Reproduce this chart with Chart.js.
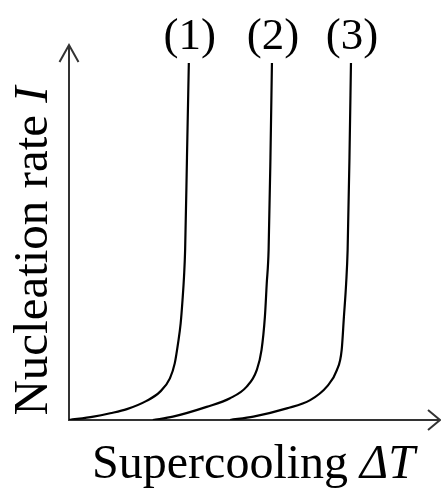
<!DOCTYPE html>
<html>
<head>
<meta charset="utf-8">
<script src="https://cdn.jsdelivr.net/npm/chart.js@4/dist/chart.umd.min.js"></script>
<style>
    html, body { margin: 0; padding: 0; background: #fff; }
    #nucleation-chart { display: block; }
</style>
</head>
<body>
<canvas id="nucleation-chart" width="441" height="490"></canvas>
<script>
// Nucleation rate vs. supercooling, three curves (arbitrary units, 0-100)
const curveLabels = ['(1)', '(2)', '(3)'];

const curve1X = [0, 6.6, 11.1, 15.6, 20.9, 24.5, 27.2, 28.5, 29.4, 30.1, 30.6, 31.0, 31.3, 31.8, 32.3];
const curve1Y = [0, 0.9, 1.8, 2.9, 5.1, 7.5, 11.1, 15.1, 20.5, 25.8, 32.0, 38.2, 45.3, 70.0, 95.2];

const curve2X = [22.6, 28.0, 37.1, 43.4, 47.9, 50.6, 51.9, 52.8, 53.3, 53.8, 54.3, 54.7];
const curve2Y = [0, 0.9, 3.5, 5.8, 8.9, 13.3, 18.7, 27.5, 36.4, 45.3, 70.0, 95.2];

const curve3X = [43.4, 49.7, 58.7, 65.0, 69.5, 72.2, 73.5, 74.1, 74.7, 75.1, 75.6, 76.0];
const curve3Y = [0, 0.9, 3.1, 5.3, 8.9, 13.3, 18.7, 27.5, 36.4, 45.3, 70.0, 95.2];

const xTitle = 'Supercooling ';
const xTitleSymbol = 'ΔT';
const yTitle = 'Nucleation rate ';
const yTitleSymbol = 'I';

const SERIF = '"Liberation Serif", "Times New Roman", serif';

function toPoints(xs, ys) {
    return xs.map((x, i) => ({ x: x, y: ys[i] }));
}

function arrowHead(ctx, tipX, tipY, backX, backY, side) {
    // open "V" arrow, direction given by the back offset
    ctx.beginPath();
    if (backX === 0) {
        ctx.moveTo(tipX - side, tipY + backY);
        ctx.lineTo(tipX, tipY);
        ctx.lineTo(tipX + side, tipY + backY);
    } else {
        ctx.moveTo(tipX + backX, tipY - side);
        ctx.lineTo(tipX, tipY);
        ctx.lineTo(tipX + backX, tipY + side);
    }
    ctx.stroke();
}

// Axes with arrows, drawn under the curves
const axesPlugin = {
    id: 'arrowAxes',
    beforeDatasetsDraw(chart) {
        const { ctx, chartArea } = chart;
        const x0 = chartArea.left;
        const y0 = chartArea.bottom;
        ctx.save();
        ctx.strokeStyle = '#333';
        ctx.lineWidth = 2;
        ctx.lineCap = 'butt';
        ctx.beginPath();
        ctx.moveTo(x0, y0 + 1);
        ctx.lineTo(x0, chartArea.top);
        ctx.moveTo(x0 - 1, y0);
        ctx.lineTo(chartArea.right, y0);
        ctx.stroke();
        ctx.lineWidth = 2;
        arrowHead(ctx, x0, chartArea.top, 0, 17, 9.5);
        arrowHead(ctx, chartArea.right, y0, -12, 0, 10);
        ctx.restore();
    }
};

// Curve names above each curve top, plus the axis titles
const labelsPlugin = {
    id: 'curveLabels',
    afterDatasetsDraw(chart) {
        const { ctx, chartArea } = chart;
        ctx.save();
        ctx.fillStyle = '#000';
        ctx.textBaseline = 'alphabetic';

        ctx.font = '45px ' + SERIF;
        ctx.textAlign = 'center';
        chart.data.datasets.forEach((ds, i) => {
            const pts = chart.getDatasetMeta(i).data;
            const top = pts[pts.length - 1];
            ctx.fillText(ds.label, top.x + 1, top.y - 14);
        });

        // x title: regular text followed by italic symbol
        ctx.textAlign = 'left';
        const regular = '48px ' + SERIF;
        const italic = 'italic 48px ' + SERIF;
        ctx.font = regular;
        const w1 = ctx.measureText(xTitle).width;
        ctx.font = italic;
        const w2 = ctx.measureText(xTitleSymbol).width;
        const tx = (chartArea.left + chartArea.right) / 2 - 1 - (w1 + w2) / 2;
        const ty = chartArea.bottom + 58;
        ctx.font = regular;
        ctx.fillText(xTitle, tx, ty);
        ctx.font = italic;
        ctx.fillText(xTitleSymbol, tx + w1, ty);

        // y title, rotated
        const yRegular = '49px ' + SERIF;
        const yItalic = 'italic 49px ' + SERIF;
        ctx.font = yRegular;
        const h1 = ctx.measureText(yTitle).width;
        ctx.font = yItalic;
        const h2 = ctx.measureText(yTitleSymbol).width;
        ctx.translate(47, 251);
        ctx.rotate(-Math.PI / 2);
        const start = -(h1 + h2) / 2;
        ctx.font = yRegular;
        ctx.fillText(yTitle, start, 0);
        ctx.font = yItalic;
        ctx.fillText(yTitleSymbol, start + h1, 0);
        ctx.restore();
    }
};

const curveStyle = {
    borderColor: '#000',
    borderWidth: 2.2,
    pointRadius: 0,
    fill: false,
    cubicInterpolationMode: 'monotone'
};

new Chart(document.getElementById('nucleation-chart'), {
    type: 'line',
    data: {
        datasets: [
            Object.assign({ label: curveLabels[0], data: toPoints(curve1X, curve1Y) }, curveStyle),
            Object.assign({ label: curveLabels[1], data: toPoints(curve2X, curve2Y) }, curveStyle),
            Object.assign({ label: curveLabels[2], data: toPoints(curve3X, curve3Y) }, curveStyle)
        ]
    },
    options: {
        responsive: false,
        animation: false,
        layout: {
            padding: { left: 69, right: 1, top: 45, bottom: 70 }
        },
        plugins: {
            legend: { display: false },
            tooltip: { enabled: false }
        },
        scales: {
            x: { type: 'linear', min: 0, max: 100, display: false },
            y: { type: 'linear', min: 0, max: 100, display: false }
        }
    },
    plugins: [axesPlugin, labelsPlugin]
});
</script>
</body>
</html>
